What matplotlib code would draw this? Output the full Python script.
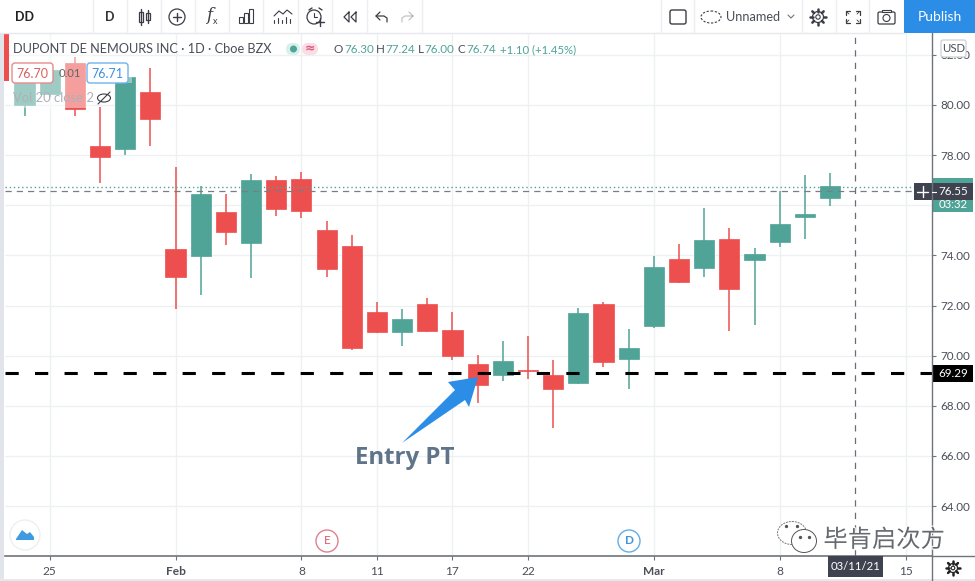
import math
import matplotlib
matplotlib.use("Agg")
import matplotlib.pyplot as plt
import matplotlib.patheffects as pe
from matplotlib.patches import Circle, Ellipse, FancyBboxPatch, Polygon, Rectangle

plt.rcParams["font.family"] = ["Lato", "DejaVu Sans"]

# daily candles
opens = [80.00, 80.44, 81.68, 78.36, 78.24, 80.52, 74.25, 73.98, 75.73, 74.49, 77.01,
         77.05, 75.01, 74.37, 71.74, 70.93, 72.06, 71.02, 69.67, 69.23, 69.43, 69.23,
         68.91, 72.06, 69.87, 71.18, 73.86, 73.50, 74.65, 73.82, 74.53, 75.53, 76.29]
highs = [80.90, 81.50, 81.92, 79.92, 81.16, 81.48, 77.53, 76.77, 76.45, 77.25, 77.17,
         77.33, 75.37, 74.81, 72.14, 71.86, 72.30, 71.74, 70.02, 70.58, 70.78, 69.83,
         71.90, 72.14, 71.06, 73.98, 74.45, 75.89, 75.09, 74.29, 76.57, 77.21, 77.29]
lows = [79.56, 80.30, 79.56, 76.89, 78.00, 78.36, 71.86, 72.42, 74.41, 73.10, 75.57,
        75.49, 73.14, 70.22, 70.92, 70.38, 70.96, 69.83, 68.11, 68.99, 69.07, 67.11,
        68.87, 69.55, 68.67, 71.10, 72.90, 73.14, 70.98, 71.22, 74.33, 74.65, 75.97]
closes = [80.88, 81.40, 79.84, 77.93, 81.12, 79.44, 73.14, 76.45, 74.93, 77.01, 75.85,
          75.77, 73.46, 70.30, 70.94, 71.46, 70.98, 69.99, 68.83, 69.79, 69.39, 68.67,
          71.70, 69.75, 70.30, 73.54, 72.94, 74.61, 72.66, 74.05, 75.25, 75.65, 76.77]

date_pos = [1, 6, 11, 14, 17, 20, 25, 30, 35]
date_labels = ["25", "Feb", "8", "11", "17", "22", "Mar", "8", "15"]
price_ticks = [64, 66, 68, 70, 72, 74, 76, 78, 80, 82]

entry_price = 69.29
cross_price = 76.55
last_price = 76.74
cross_pos = 33

GREEN = "#4fa397"
RED = "#ec4f4d"
GRID = "#eef0f4"
AXIS = "#6f737c"
TEXT = "#4a4e57"
ICON = "#3a3d45"
BLUE = "#2c8de6"

W, H = 975, 581
fig = plt.figure(figsize=(W / 100, H / 100), dpi=100)

# price pane, placed by pixels
left, right, top, bottom = 5, 932, 33, 555.5
ax = fig.add_axes([left / W, 1 - bottom / H, (right - left) / W, (bottom - top) / H])
ax.set_xlim(-0.775, 36.05)
ax.set_ylim(62.03, 82.87)
ax.set_axisbelow(True)
ax.grid(True, color=GRID, lw=1)
for s in ["top", "left", "right"]:
    ax.spines[s].set_visible(False)
ax.spines["bottom"].set_color(AXIS)
ax.spines["bottom"].set_linewidth(1.2)
ax.yaxis.tick_right()
ax.set_yticks(price_ticks)
ax.set_yticklabels([f"{p:.2f}" for p in price_ticks])
ax.set_xticks(date_pos)
ax.set_xticklabels(date_labels)
ax.tick_params(axis="y", length=3, width=0.8, color=AXIS, labelcolor=TEXT, labelsize=8.4, pad=3)
ax.tick_params(axis="x", length=3, width=0.8, color=AXIS, labelcolor=TEXT, labelsize=8.6, pad=4.5)
for lab in ax.get_xticklabels():
    if lab.get_text() in ("Feb", "Mar"):
        lab.set_fontweight("bold")

for i in range(len(opens)):
    col = GREEN if closes[i] >= opens[i] else RED
    ax.vlines(i, lows[i], highs[i], color=col, lw=1.1, zorder=3)
    ax.bar(i, closes[i] - opens[i], bottom=opens[i], width=0.8, color=col, edgecolor=col, lw=0.5, zorder=4)

ax.axhline(last_price, color=GREEN, lw=1, ls=(0, (1, 2)), zorder=5)
ax.axhline(cross_price, color="#7a7d86", lw=0.9, ls=(0, (5, 4)), zorder=5)
ax.axvline(cross_pos, color="#6a6d76", lw=0.9, ls=(0, (5, 5)), zorder=5)
ax.axhline(entry_price, color="black", lw=2.2, ls=(0, (4.33, 5.33)), zorder=6)

# everything around the chart goes on a pixel overlay
ov = fig.add_axes([0, 0, 1, 1], zorder=10)
ov.set_xlim(0, W)
ov.set_ylim(H, 0)
ov.axis("off")
ov.patch.set_alpha(0)

ov.add_patch(Rectangle((0, 33), 4, H - 33, color="#e2e4ec", lw=0))
ov.add_patch(Rectangle((0, 579), W, 2, color="#e6e8ee", lw=0))
ov.plot([932, 932], [33, 581], color=AXIS, lw=1)
ov.plot([932, 975], [555.5, 555.5], color=AXIS, lw=1)

# legend washes out the first candles
ov.add_patch(Rectangle((10, 36), 82, 72, color="white", alpha=0.45, lw=0))
ov.add_patch(Rectangle((115, 70), 17, 13, color="white", alpha=0.4, lw=0))

# toolbar
ov.add_patch(Rectangle((0, 0), W, 33, color="white", lw=0))
ov.plot([0, 904], [33, 33], color="#e6e8ee", lw=1)
for x in [93, 127, 161, 195, 229, 263, 298, 332, 367, 422, 661, 694, 802, 836, 869]:
    ov.plot([x, x], [0, 33], color="#eceef2", lw=1)
ov.text(15, 17, "DD", fontsize=9, fontweight="bold", color="#222", va="center")
ov.text(110, 17, "D", fontsize=9, fontweight="bold", color="#333", va="center", ha="center")


def line(xs, ys, lw=1, color=ICON, **kw):
    ov.plot(xs, ys, color=color, lw=lw, solid_capstyle="round", **kw)


def gear(cx, cy, r, color=ICON):
    for k in range(8):
        a = k * math.pi / 4
        line([cx + r * math.cos(a), cx + (r + 2.5) * math.cos(a)],
             [cy + r * math.sin(a), cy + (r + 2.5) * math.sin(a)], lw=1.8, color=color)
    ov.add_patch(Circle((cx, cy), r, fc="white", ec=color, lw=0.9))
    ov.add_patch(Circle((cx, cy), r * 0.4, fc="white", ec=color, lw=0.8))


# candles icon
for x, y0, y1 in [(141, 12, 22), (148, 13, 20)]:
    ov.add_patch(Rectangle((x - 2, y0), 4, y1 - y0, fc="white", ec=ICON, lw=0.9))
    line([x, x], [y0 - 3, y1 + 3])
# indicator plus
ov.add_patch(Circle((177, 17), 8, fc="white", ec=ICON, lw=0.9))
line([173, 181], [17, 17])
line([177, 177], [13, 21])
ov.text(209, 16, "f", fontsize=12, style="italic", color=ICON, ha="center", va="center", family="DejaVu Serif")
ov.text(215, 21, "x", fontsize=6.5, color=ICON, ha="center", va="center")
# compare bars
for x, h in [(239, 6), (244, 10), (249, 14)]:
    ov.add_patch(Rectangle((x, 23 - h), 4, h, fc="white", ec=ICON, lw=0.8))
# chart with bars
line([274, 279, 283, 287, 292], [16, 11, 14, 10, 14], lw=0.8)
for x, h in [(274, 3), (278, 5), (282, 3), (286, 6), (290, 4)]:
    line([x, x], [23 - h, 23], lw=0.8)
# alarm
ov.add_patch(Circle((314, 17), 7, fc="white", ec=ICON, lw=0.9))
line([309, 312], [10, 8])
line([319, 322], [8, 10])
line([314, 314, 317], [13, 17, 17], lw=0.8)
line([316, 324], [22, 22])
line([320, 320], [18, 26])
# rewind
line([349, 344, 349, 349], [12, 17, 22, 12], lw=0.9)
line([356, 351, 356, 356], [12, 17, 22, 12], lw=0.9)
# undo, redo
line([380, 376, 380], [12, 16, 20], lw=0.9)
line([376, 384, 387, 387], [16, 16, 18, 22], lw=0.9)
line([409, 413, 409], [12, 16, 20], lw=0.9, alpha=0.3)
line([413, 405, 402, 402], [16, 16, 18, 22], lw=0.9, alpha=0.3)

ov.add_patch(FancyBboxPatch((670, 10), 16, 14, boxstyle="round,pad=0,rounding_size=2", fc="white", ec=ICON, lw=1))
ov.add_patch(Ellipse((711, 17), 20, 12, fc="white", ec=ICON, lw=0.8, ls=(0, (2, 1.5))))
ov.text(726, 17, "Unnamed", fontsize=9.2, color=TEXT, va="center")
line([788, 791, 794], [15, 18, 15], lw=0.8, color="#777")
gear(818, 17, 5.5)
# fullscreen corners
for cx, cy, sx, sy in [(846, 11, 1, 1), (860, 11, -1, 1), (846, 23, 1, -1), (860, 23, -1, -1)]:
    line([cx, cx, cx + 4 * sx], [cy + 4 * sy, cy, cy], lw=0.9)
    line([cx + 1 * sx, cx + 3 * sx], [cy + 1 * sy, cy + 3 * sy], lw=0.6)
# camera
ov.add_patch(FancyBboxPatch((878, 12), 17, 12, boxstyle="round,pad=0,rounding_size=1.5", fc="white", ec=ICON, lw=0.9))
ov.add_patch(Rectangle((882, 9.5), 9, 2.5, fc="white", ec=ICON, lw=0.8))
ov.add_patch(Circle((886.5, 18), 3.5, fc="white", ec=ICON, lw=0.8))
ov.add_patch(Rectangle((904, 0), 71, 33, color=BLUE, lw=0))
ov.text(939.5, 17, "Publish", fontsize=10, color="white", ha="center", va="center")

# legend
ov.add_patch(Rectangle((4, 34), 4.5, 47, color=RED, lw=0))
ov.text(13, 49, "DUPONT DE NEMOURS INC · 1D · Cboe BZX", fontsize=9.2, color=TEXT, va="center")
ov.add_patch(FancyBboxPatch((286, 43), 14, 12, boxstyle="round,pad=0,rounding_size=6", fc="#d9f0ea", ec="none"))
ov.add_patch(FancyBboxPatch((302, 43), 16, 12, boxstyle="round,pad=0,rounding_size=6", fc="#fbdde6", ec="none"))
ov.add_patch(Circle((293.5, 49), 3.5, fc=GREEN, ec="none"))
ov.text(310, 49, "≈", fontsize=9, color="#e0557a", ha="center", va="center", fontweight="bold", family="DejaVu Sans")
ohlc_x = [334, 376, 418, 458]
ohlc = [("O", "76.30"), ("H", "77.24"), ("L", "76.00"), ("C", "76.74")]
for x, (k, v) in zip(ohlc_x, ohlc):
    t = ov.text(x, 49.5, k, fontsize=8.4, color=TEXT, va="center")
    ov.annotate(v, xy=(1, 0.5), xycoords=t, xytext=(0.5, 0), textcoords="offset points",
                fontsize=8.4, color=GREEN, va="center")
ov.text(500, 49.5, "+1.10 (+1.45%)", fontsize=8.2, color=GREEN, va="center")

ov.add_patch(FancyBboxPatch((12, 63), 41, 20, boxstyle="round,pad=0,rounding_size=3", fc="white", ec="#e58b8b", lw=1))
ov.text(32.5, 73.5, "76.70", fontsize=9, color="#d9605f", ha="center", va="center")
ov.text(70, 73.5, "0.01", fontsize=8.2, color="#666", ha="center", va="center")
ov.add_patch(FancyBboxPatch((87, 63), 41, 20, boxstyle="round,pad=0,rounding_size=3", fc="white", ec="#6fb2ee", lw=1))
ov.text(107.5, 73.5, "76.71", fontsize=9, color="#3f90dc", ha="center", va="center")
ov.text(13, 98, "Vol 20 close 2", fontsize=9.4, color="#aeb1b8", va="center")
ov.add_patch(Ellipse((104, 98), 13, 8, fc="none", ec=ICON, lw=0.8))
line([98, 110], [104, 92], lw=0.8)

# right scale labels
ov.add_patch(FancyBboxPatch((941, 40), 25, 17, boxstyle="round,pad=0,rounding_size=2", fc="white", ec="#c8cad0", lw=0.8))
ov.text(953.5, 48.5, "USD", fontsize=8.2, color=TEXT, ha="center", va="center")

ov.add_patch(Rectangle((932, 178), 41, 34, color=GREEN, lw=0))
ov.add_patch(Rectangle((914, 183), 59, 17, color="#3f4350", lw=0))
line([917, 928], [191.5, 191.5], color="white", lw=1)
line([922.5, 922.5], [186, 197], color="white", lw=1)
ov.plot([932, 936], [191.5, 191.5], color="white", lw=0.8)
ov.text(953, 191.5, f"{cross_price:.2f}", fontsize=8.4, color="white", ha="center", va="center")
ov.text(953, 205, "03:32", fontsize=8.2, color="white", ha="center", va="center")

ov.add_patch(Rectangle((932, 365), 41, 17, color="black", lw=0))
ov.text(953, 373.5, f"{entry_price:.2f}", fontsize=8.4, color="white", ha="center", va="center")

ov.add_patch(Rectangle((828, 556), 55, 21, color="#3f4350", lw=0))
ov.text(855.5, 566.5, "03/11/21", fontsize=8.2, color="white", ha="center", va="center")

# arrow and its label
ov.add_patch(Polygon([(478, 377), (448, 382), (455, 390), (402, 443), (465, 400), (469, 407)], color=BLUE, lw=0))
ov.text(405, 458, "Entry PT", fontsize=17.3, fontweight="bold", color="#5f7488", ha="center", va="center",
        family="Open Sans")

# event badges
ov.add_patch(Circle((327, 541), 11, fc="white", ec="#e0808f", lw=1))
ov.text(327, 541, "E", fontsize=8.5, color="#d9566b", ha="center", va="center")
ov.add_patch(Circle((629, 541), 11, fc="white", ec="#63aee8", lw=1))
ov.text(629, 541, "D", fontsize=8.5, fontweight="bold", color="#3f96de", ha="center", va="center")

# logo
ov.add_patch(Circle((25, 535), 15, fc="white", ec="#eeeff2", lw=1))
ov.add_patch(Polygon([(16, 539), (22, 530), (27, 534), (30, 532), (34, 537), (34, 540), (16, 540)], color="#3f9be0", lw=0))

# watermark
ov.add_patch(Ellipse((792, 533), 29, 23, fc="white", ec="#777", lw=0.7, ls=(0, (2, 1))))
ov.add_patch(Ellipse((804, 541), 25, 23, fc="white", ec="#555", lw=0.7))
ov.plot([786, 797, 800, 809], [526, 526, 537, 537], ls="none", marker="o", ms=1.4, color="#555")
ov.text(884, 540, "毕肯启次方", fontsize=17.5, color="#66696f", ha="center", va="center",
        family=["Noto Sans CJK SC", "DejaVu Sans"],
        path_effects=[pe.withStroke(linewidth=1.5, foreground="white")])

# settings gear
gear(953, 568, 4.5, color="#222")

fig.savefig("out.png", dpi=100)
